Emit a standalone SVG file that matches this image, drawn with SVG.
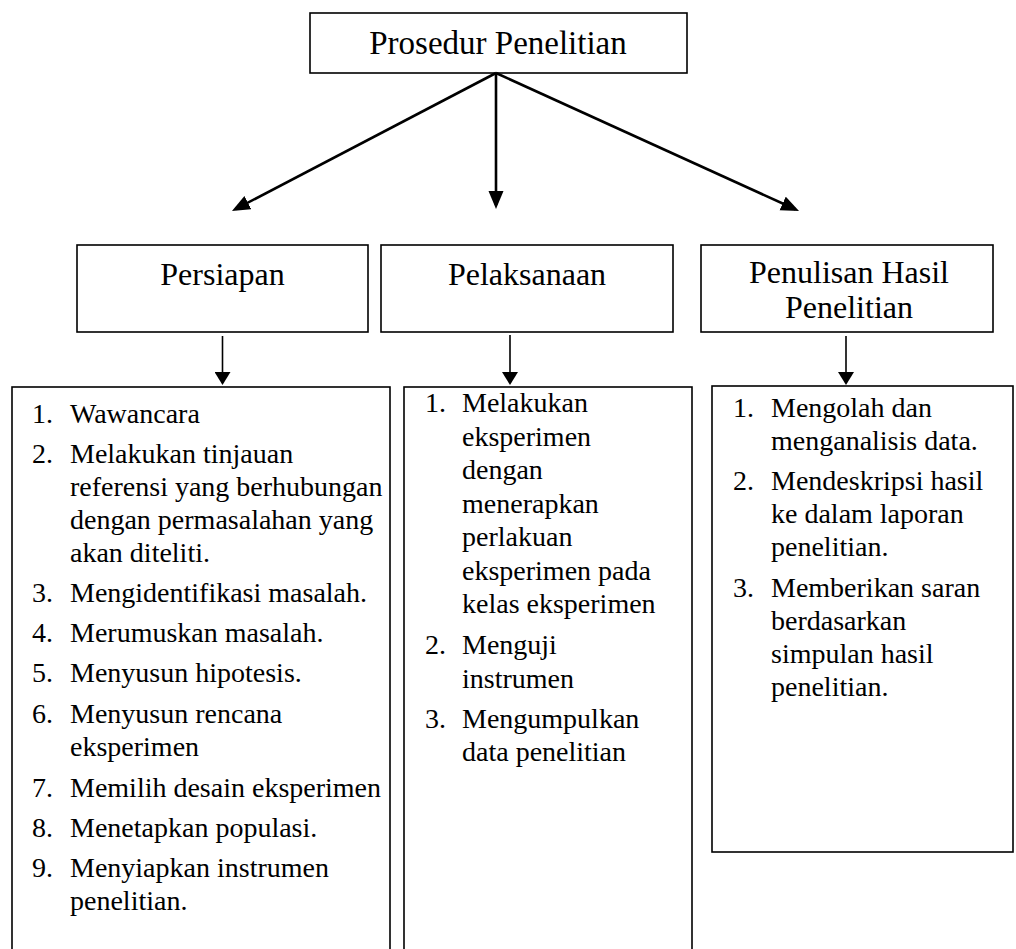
<svg xmlns="http://www.w3.org/2000/svg" width="1016" height="949" viewBox="0 0 1016 949">
  <style>
    .box { fill: #ffffff; stroke: #000000; stroke-width: 1.6; }
    .title { font-family: "Liberation Serif", "Times New Roman", "DejaVu Serif", serif; font-size: 33px; fill: #000000; text-anchor: middle; }
    .head { font-family: "Liberation Serif", "Times New Roman", "DejaVu Serif", serif; font-size: 32px; fill: #000000; text-anchor: middle; }
    .item { font-family: "Liberation Serif", "Times New Roman", "DejaVu Serif", serif; font-size: 28px; fill: #000000; }
    .big { stroke: #000000; stroke-width: 2.6; fill: none; marker-end: url(#bigHead); }
    .small { stroke: #000000; stroke-width: 1.6; fill: none; marker-end: url(#smallHead); }
  </style>
  <defs>
    <marker id="bigHead" markerUnits="userSpaceOnUse" markerWidth="20" markerHeight="16" refX="14" refY="7.5" orient="auto">
      <path d="M0,0 L18,7.5 L0,15 z" fill="#000000"/>
    </marker>
    <marker id="smallHead" markerUnits="userSpaceOnUse" markerWidth="14" markerHeight="16" refX="11" refY="8" orient="auto">
      <path d="M0,0 L13,8 L0,16 z" fill="#000000"/>
    </marker>
  </defs>
  <rect width="1016" height="949" fill="#ffffff"/>

  <g id="node-prosedur">
    <rect class="box" x="310" y="13" width="377" height="60"/>
    <text class="title" x="498" y="54">Prosedur Penelitian</text>
  </g>

  <g id="node-persiapan">
    <rect class="box" x="77" y="245" width="291" height="87"/>
    <text class="head" x="222.5" y="285">Persiapan</text>
  </g>

  <g id="node-pelaksanaan">
    <rect class="box" x="381" y="245" width="292" height="87"/>
    <text class="head" x="527" y="285">Pelaksanaan</text>
  </g>

  <g id="node-penulisan">
    <rect class="box" x="701" y="245" width="292" height="87"/>
    <text class="head" x="849" y="283">Penulisan Hasil</text>
    <text class="head" x="849" y="318">Penelitian</text>
  </g>

  <g id="node-list-persiapan">
    <rect class="box" x="12" y="387" width="378" height="580"/>
    <text class="item" x="32" y="423">1.</text><text class="item" x="70" y="423">Wawancara</text>
    <text class="item" x="32" y="463">2.</text><text class="item" x="70" y="463">Melakukan tinjauan</text>
    <text class="item" x="70" y="496">referensi yang berhubungan</text>
    <text class="item" x="70" y="529">dengan permasalahan yang</text>
    <text class="item" x="70" y="561.5">akan diteliti.</text>
    <text class="item" x="32" y="602">3.</text><text class="item" x="70" y="602">Mengidentifikasi masalah.</text>
    <text class="item" x="32" y="642">4.</text><text class="item" x="70" y="642">Merumuskan masalah.</text>
    <text class="item" x="32" y="682">5.</text><text class="item" x="70" y="682">Menyusun hipotesis.</text>
    <text class="item" x="32" y="722.5">6.</text><text class="item" x="70" y="722.5">Menyusun rencana</text>
    <text class="item" x="70" y="755.5">eksperimen</text>
    <text class="item" x="32" y="796.5">7.</text><text class="item" x="70" y="796.5">Memilih desain eksperimen</text>
    <text class="item" x="32" y="837">8.</text><text class="item" x="70" y="837">Menetapkan populasi.</text>
    <text class="item" x="32" y="877">9.</text><text class="item" x="70" y="877">Menyiapkan instrumen</text>
    <text class="item" x="70" y="910">penelitian.</text>
  </g>

  <g id="node-list-pelaksanaan">
    <rect class="box" x="404" y="387" width="288" height="580"/>
    <text class="item" x="425" y="412">1.</text><text class="item" x="462" y="412">Melakukan</text>
    <text class="item" x="462" y="445.5">eksperimen</text>
    <text class="item" x="462" y="479">dengan</text>
    <text class="item" x="462" y="512.5">menerapkan</text>
    <text class="item" x="462" y="546">perlakuan</text>
    <text class="item" x="462" y="579.5">eksperimen pada</text>
    <text class="item" x="462" y="613">kelas eksperimen</text>
    <text class="item" x="425" y="654">2.</text><text class="item" x="462" y="654">Menguji</text>
    <text class="item" x="462" y="687.5">instrumen</text>
    <text class="item" x="425" y="727.5">3.</text><text class="item" x="462" y="727.5">Mengumpulkan</text>
    <text class="item" x="462" y="761">data penelitian</text>
  </g>

  <g id="node-list-penulisan">
    <rect class="box" x="712" y="386" width="301" height="466"/>
    <text class="item" x="733" y="417">1.</text><text class="item" x="771" y="417">Mengolah dan</text>
    <text class="item" x="771" y="450">menganalisis data.</text>
    <text class="item" x="733" y="490">2.</text><text class="item" x="771" y="490">Mendeskripsi hasil</text>
    <text class="item" x="771" y="523">ke dalam laporan</text>
    <text class="item" x="771" y="556">penelitian.</text>
    <text class="item" x="733" y="597">3.</text><text class="item" x="771" y="597">Memberikan saran</text>
    <text class="item" x="771" y="630">berdasarkan</text>
    <text class="item" x="771" y="663">simpulan hasil</text>
    <text class="item" x="771" y="696">penelitian.</text>
  </g>

  <g id="connectors">
    <line class="big" x1="496" y1="73" x2="235.5" y2="209.1"/>
    <line class="big" x1="496" y1="73" x2="496" y2="205"/>
    <line class="big" x1="496" y1="73" x2="795.4" y2="209.3"/>
    <line class="small" x1="222.5" y1="336" x2="222.5" y2="383"/>
    <line class="small" x1="510" y1="335" x2="510" y2="383"/>
    <line class="small" x1="846" y1="336" x2="846" y2="383"/>
  </g>
</svg>
